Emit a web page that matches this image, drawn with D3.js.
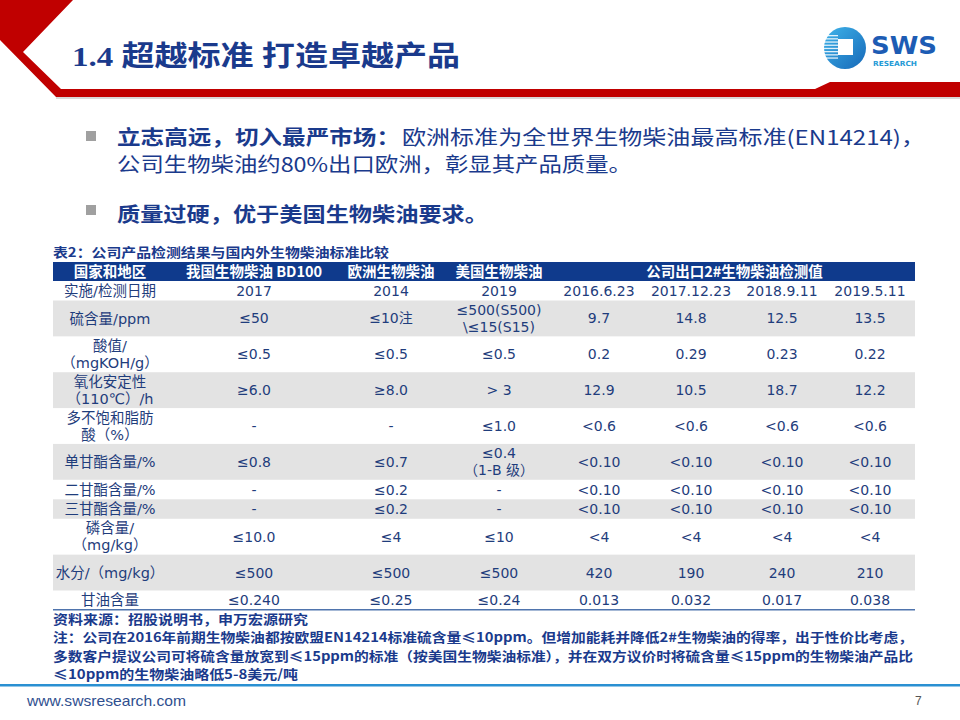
<!DOCTYPE html>
<html><head><meta charset="utf-8">
<script src="https://cdn.jsdelivr.net/npm/d3@7"></script>
<style>
html,body{margin:0;padding:0;background:#fff;}
svg{display:block;}
</style></head>
<body>
<svg id="chart" width="960" height="720"></svg>
<script>
// ---------- data ----------
const titleText = "1.4 超越标准 打造卓越产品";
const bullet1Bold = "立志高远，切入最严市场：";
const bullet1Rest = "欧洲标准为全世界生物柴油最高标准(EN14214)，";
const bullet1Line2 = "公司生物柴油约80%出口欧洲，彰显其产品质量。";
const bullet2Bold = "质量过硬，优于美国生物柴油要求。";
const tableCaption = "表2：公司产品检测结果与国内外生物柴油标准比较";

const columns = ["label","cn","eu","us","t1","t2","t3","t4"];
const headerLabels = ["国家和地区","我国生物柴油 BD100","欧洲生物柴油","美国生物柴油"];
const companyHeader = "公司出口2#生物柴油检测值";

const rowLabels = [
  ["实施/检测日期"],
  ["硫含量/ppm"],
  ["酸值/","（mgKOH/g）"],
  ["氧化安定性","（110℃）/h"],
  ["多不饱和脂肪","酸（%）"],
  ["单甘酯含量/%"],
  ["二甘酯含量/%"],
  ["三甘酯含量/%"],
  ["磷含量/","（mg/kg）"],
  ["水分/（mg/kg）"],
  ["甘油含量"]
];
const rowLines = [1,2,2,2,2,2,1,1,2,2,1];
const cnStandard = ["2017","≤50","≤0.5","≥6.0","-","≤0.8","-","-","≤10.0","≤500","≤0.240"];
const euStandard = ["2014","≤10注","≤0.5","≥8.0","-","≤0.7","≤0.2","≤0.2","≤4","≤500","≤0.25"];
const usStandard = ["2019","≤500(S500)|\\≤15(S15)","≤0.5","> 3","≤1.0","≤0.4|（1-B 级）","-","-","≤10","≤500","≤0.24"];
const test20160623 = ["2016.6.23","9.7","0.2","12.9","<0.6","<0.10","<0.10","<0.10","<4","420","0.013"];
const test20171223 = ["2017.12.23","14.8","0.29","10.5","<0.6","<0.10","<0.10","<0.10","<4","190","0.032"];
const test20180911 = ["2018.9.11","12.5","0.23","18.7","<0.6","<0.10","<0.10","<0.10","<4","240","0.017"];
const test20190511 = ["2019.5.11","13.5","0.22","12.2","<0.6","<0.10","<0.10","<0.10","<4","210","0.038"];

const sourceNote = "资料来源：招股说明书，申万宏源研究";
const noteLines = [
  "注：公司在2016年前期生物柴油都按欧盟EN14214标准硫含量≤10ppm。但增加能耗并降低2#生物柴油的得率，出于性价比考虑，",
  "多数客户提议公司可将硫含量放宽到≤15ppm的标准（按美国生物柴油标准），并在双方议价时将硫含量≤15ppm的生物柴油产品比",
  "≤10ppm的生物柴油略低5-8美元/吨"
];
const footerUrl = "www.swsresearch.com";
const pageNum = "7";

// ---------- drawing ----------
const svg = d3.select("#chart");
const navy = "#1a3a8c";
const cellBlue = "#1f3d7c";
const CJK = "'Noto Sans CJK SC','Noto Sans',sans-serif";
const TBL = "'DejaVu Sans','Noto Sans CJK SC',sans-serif";

// header decoration
svg.append("path")
  .attr("d","M0,0 L73,0 L23,52 L61,89 L815,89 L830,82 L960,82 L960,97 L56,97 L0,40 Z")
  .attr("fill","#c00000");
svg.append("rect").attr("x",56).attr("y",97).attr("width",904).attr("height",2).attr("fill","#d9d9d9");

svg.append("text").attr("x",72).attr("y",66)
  .attr("font-family","'Liberation Serif','Noto Sans CJK SC',serif")
  .attr("font-weight","bold").attr("font-size",28).attr("fill",navy)
  .attr("textLength",388).attr("lengthAdjust","spacingAndGlyphs")
  .text(titleText);

// logo
const defs = svg.append("defs");
const lg = defs.append("linearGradient").attr("id","lg").attr("x1","0").attr("y1","0").attr("x2","1").attr("y2","1");
lg.append("stop").attr("offset","0").attr("stop-color","#3fb4ea");
lg.append("stop").attr("offset","1").attr("stop-color","#1668b8");
const logo = svg.append("g");
logo.append("circle").attr("cx",845).attr("cy",48).attr("r",21).attr("fill","url(#lg)");
d3.range(8).forEach(i=>{
  logo.append("rect").attr("x",824).attr("y",35+i*3.2).attr("width",14).attr("height",1.3).attr("fill","#fff").attr("opacity",0.85);
});
logo.append("rect").attr("x",838).attr("y",39).attr("width",15).attr("height",16).attr("fill","#fff");
logo.append("text").attr("x",871).attr("y",54).attr("font-family","'DejaVu Sans',sans-serif")
  .attr("font-weight","bold").attr("font-size",25).attr("fill","#1d5cb4")
  .attr("textLength",66).attr("lengthAdjust","spacingAndGlyphs").text("SWS");
logo.append("text").attr("x",873).attr("y",66).attr("font-family","'DejaVu Sans',sans-serif")
  .attr("font-weight","bold").attr("font-size",7).attr("fill","#1f9ad6")
  .attr("textLength",44).attr("lengthAdjust","spacingAndGlyphs").text("RESEARCH");

// bullets
[[131],[205]].forEach(([y])=>{
  svg.append("rect").attr("x",86).attr("y",y).attr("width",10).attr("height",10).attr("fill","#a0a0a0");
});
const bt = (txt,x,y,w,bold)=>svg.append("text").attr("x",x).attr("y",y)
  .attr("font-family",CJK).attr("font-size",20).attr("font-weight",bold?"bold":"normal")
  .attr("fill",navy).attr("textLength",w).attr("lengthAdjust","spacingAndGlyphs").text(txt);
bt(bullet1Bold,117,145,283,true);
bt(bullet1Rest,402,145,523,false);
bt(bullet1Line2,117,172,515,false);
bt(bullet2Bold,117,222,371,true);

// table caption
svg.append("text").attr("x",53).attr("y",257).attr("font-family",CJK).attr("font-weight","bold")
  .attr("font-size",13).attr("fill",navy).attr("textLength",336).attr("lengthAdjust","spacingAndGlyphs")
  .text(tableCaption);

// scales
const tableLeft = 53, tableRight = 915, headerTop = 262, headerH = 19;
const x = d3.scaleOrdinal().domain(columns).range([110,254,391,499,599,691,782,870]);
const unitH = {1:19.5, 2:35.86};
const cum = [0]; rowLines.forEach((n,i)=>cum.push(cum[i]+unitH[n]));
const y = d3.scaleLinear().domain([0,cum[cum.length-1]]).range([headerTop+headerH, 610]);

// header row
svg.append("rect").attr("x",tableLeft).attr("y",headerTop).attr("width",tableRight-tableLeft).attr("height",headerH).attr("fill","#0f3a8c");
const hdr = svg.append("g").attr("font-family",CJK).attr("font-weight","bold").attr("font-size",14.5).attr("fill","#fff").attr("text-anchor","middle");
headerLabels.forEach((h,i)=>{
  hdr.append("text").attr("x",x(columns[i])).attr("y",headerTop+headerH/2).attr("dy","0.36em").text(h);
});
hdr.append("text").attr("x",(x("t1")+x("t4"))/2 + 0).attr("y",headerTop+headerH/2).attr("dy","0.36em").text(companyHeader);

// body rows
const valueCols = [cnStandard,euStandard,usStandard,test20160623,test20171223,test20180911,test20190511];
const body = svg.append("g");
rowLabels.forEach((lab,i)=>{
  const y0 = y(cum[i]), y1 = y(cum[i+1]), yc = (y0+y1)/2;
  if(i%2===1) body.append("rect").attr("x",tableLeft).attr("y",y0).attr("width",tableRight-tableLeft).attr("height",y1-y0).attr("fill","#e3e3e3");
  const cells = [lab].concat(valueCols.map(c=>c[i].split("|")));
  cells.forEach((lines,j)=>{
    const t = body.append("text").attr("x",x(columns[j])).attr("text-anchor","middle")
      .attr("font-family",TBL).attr("font-size",j===0?14.5:14).attr("fill",cellBlue);
    lines.forEach((ln,k)=>{
      const off = lines.length===1?0:(k===0?-8.5:8.5);
      t.append("tspan").attr("x",x(columns[j])).attr("y",yc+off).attr("dy","0.36em").text(ln);
    });
  });
});
svg.append("rect").attr("x",tableLeft).attr("y",609).attr("width",tableRight-tableLeft).attr("height",1.5).attr("fill","#4f74ad");

// notes
const nt = (txt,yy,w)=>svg.append("text").attr("x",53).attr("y",yy).attr("font-family",CJK)
  .attr("font-weight","bold").attr("font-size",13).attr("fill",navy)
  .attr("textLength",w).attr("lengthAdjust","spacingAndGlyphs").text(txt);
nt(sourceNote,624,255);
nt(noteLines[0],642,860);
nt(noteLines[1],661,860);
nt(noteLines[2],679,245);

// footer
svg.append("rect").attr("x",0).attr("y",684).attr("width",960).attr("height",2.5).attr("fill","#2a90d2");
svg.append("text").attr("x",27).attr("y",706).attr("font-family","'Liberation Sans Narrow','Liberation Sans',sans-serif")
  .attr("font-size",14.5).attr("fill","#2f4f8f").attr("textLength",159).attr("lengthAdjust","spacingAndGlyphs").text(footerUrl);
svg.append("text").attr("x",915).attr("y",705).attr("font-family","'Liberation Sans',sans-serif")
  .attr("font-size",12).attr("fill","#555").text(pageNum);
</script>
</body></html>
